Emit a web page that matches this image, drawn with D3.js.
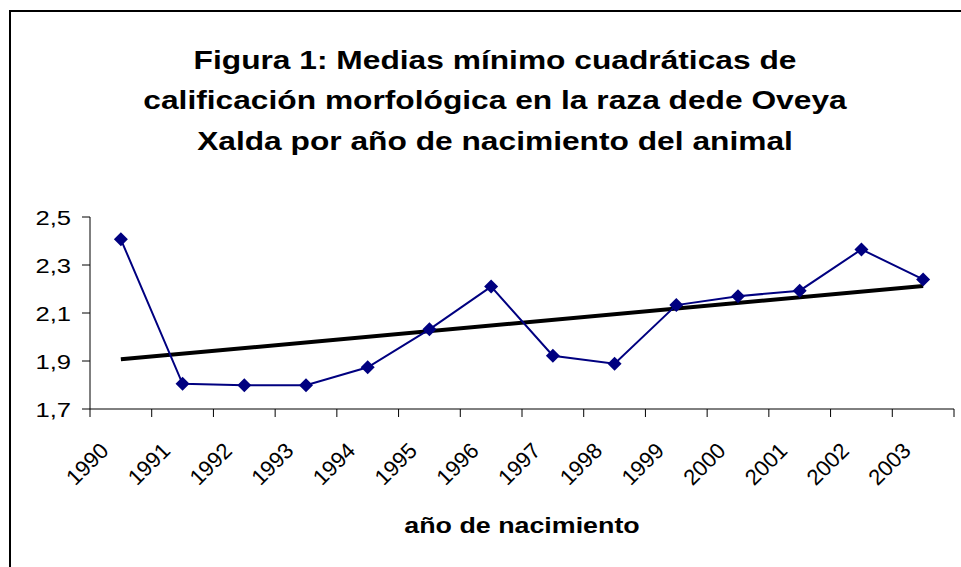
<!DOCTYPE html>
<html>
<head>
<meta charset="utf-8">
<script src="https://cdn.jsdelivr.net/npm/d3@7"></script>
<style>
  body { margin: 0; background: #fff; }
  svg { display: block; font-family: "Liberation Sans", Arial, sans-serif; }
</style>
</head>
<body>
<svg id="chart" width="961" height="567"></svg>
<script>
// Data
const years = ["1990", "1991", "1992", "1993", "1994", "1995", "1996",
               "1997", "1998", "1999", "2000", "2001", "2002", "2003"];
const medias = [2.407, 1.805, 1.799, 1.799, 1.874, 2.032, 2.210,
                1.922, 1.889, 2.133, 2.170, 2.193, 2.365, 2.240];
const yTicks = [1.7, 1.9, 2.1, 2.3, 2.5];
const titleLines = [
    "Figura 1: Medias mínimo cuadráticas de",
    "calificación morfológica en la raza dede Oveya",
    "Xalda por año de nacimiento del animal"
];
const xTitle = "año de nacimiento";

const stretch = 1.22; // text in the source looks widened horizontally

function linearRegression(x, y) {
    let n = x.length;
    let sum_x = d3.sum(x);
    let sum_y = d3.sum(y);
    let sum_xx = d3.sum(x.map(d => d * d));
    let sum_xy = d3.sum(x.map((d, i) => d * y[i]));
    let m = (n * sum_xy - sum_x * sum_y) / (n * sum_xx - sum_x * sum_x);
    let b = (sum_y - m * sum_x) / n;
    return { m, b };
}

const svg = d3.select("#chart");

// outer frame (cropped at right / bottom)
svg.append("rect")
    .attr("x", 10).attr("y", 11)
    .attr("width", 990).attr("height", 600)
    .attr("fill", "none")
    .attr("stroke", "#000")
    .attr("stroke-width", 2);

// title
const title = svg.append("g")
    .attr("transform", `translate(495,0) scale(${stretch},1)`);
title.selectAll("text")
    .data(titleLines)
    .enter()
    .append("text")
    .attr("x", 0)
    .attr("y", (d, i) => 69 + i * 40.5)
    .attr("text-anchor", "middle")
    .attr("font-size", 26)
    .attr("font-weight", "bold")
    .text(d => d);

// scales
const x = d3.scaleBand().domain(years).range([90, 954]);
const y = d3.scaleLinear().domain([1.7, 2.5]).range([409, 217]);
const xc = d => x(d) + x.bandwidth() / 2;

// y axis
const yAxis = svg.append("g").attr("transform", "translate(90,0)");
yAxis.append("line")
    .attr("y1", y(1.7)).attr("y2", y(2.5))
    .attr("stroke", "#000");
yAxis.selectAll(".tick")
    .data(yTicks)
    .enter()
    .append("line")
    .attr("x1", -8).attr("x2", 0)
    .attr("y1", d => y(d)).attr("y2", d => y(d))
    .attr("stroke", "#000");
yAxis.selectAll("text")
    .data(yTicks)
    .enter()
    .append("text")
    .attr("transform", d => `translate(-19,${y(d) + 7.5}) scale(${stretch},1)`)
    .attr("text-anchor", "end")
    .attr("font-size", 21)
    .text(d => d3.format(".1f")(d).replace(".", ","));

// x axis
const xAxis = svg.append("g").attr("transform", `translate(0,${y(1.7)})`);
xAxis.append("line")
    .attr("x1", 90).attr("x2", 954)
    .attr("stroke", "#000");
xAxis.selectAll(".tick")
    .data(years.map(d => x(d)).concat([954]))
    .enter()
    .append("line")
    .attr("x1", d => d).attr("x2", d => d)
    .attr("y1", 0).attr("y2", 8)
    .attr("stroke", "#000");
xAxis.selectAll("text")
    .data(years)
    .enter()
    .append("text")
    .attr("transform", d => `translate(${xc(d) - 11},43) rotate(-45)`)
    .attr("text-anchor", "end")
    .attr("font-size", 22)
    .text(d => d);

svg.append("text")
    .attr("transform", `translate(522,533) scale(${stretch},1)`)
    .attr("text-anchor", "middle")
    .attr("font-size", 22)
    .attr("font-weight", "bold")
    .text(xTitle);

// linear trend line
const idx = years.map((d, i) => i);
const reg = linearRegression(idx, medias);
svg.append("line")
    .attr("x1", xc(years[0]))
    .attr("y1", y(reg.b))
    .attr("x2", xc(years[years.length - 1]))
    .attr("y2", y(reg.b + reg.m * (years.length - 1)))
    .attr("stroke", "#000")
    .attr("stroke-width", 4);

// series
const line = d3.line()
    .x((d, i) => xc(years[i]))
    .y(d => y(d));
svg.append("path")
    .datum(medias)
    .attr("d", line)
    .attr("fill", "none")
    .attr("stroke", "#000080")
    .attr("stroke-width", 2);

svg.selectAll(".pt")
    .data(medias)
    .enter()
    .append("path")
    .attr("class", "pt")
    .attr("transform", (d, i) => `translate(${xc(years[i])},${y(d)})`)
    .attr("d", "M0,-7L7,0L0,7L-7,0Z")
    .attr("fill", "#000080");
</script>
</body>
</html>
